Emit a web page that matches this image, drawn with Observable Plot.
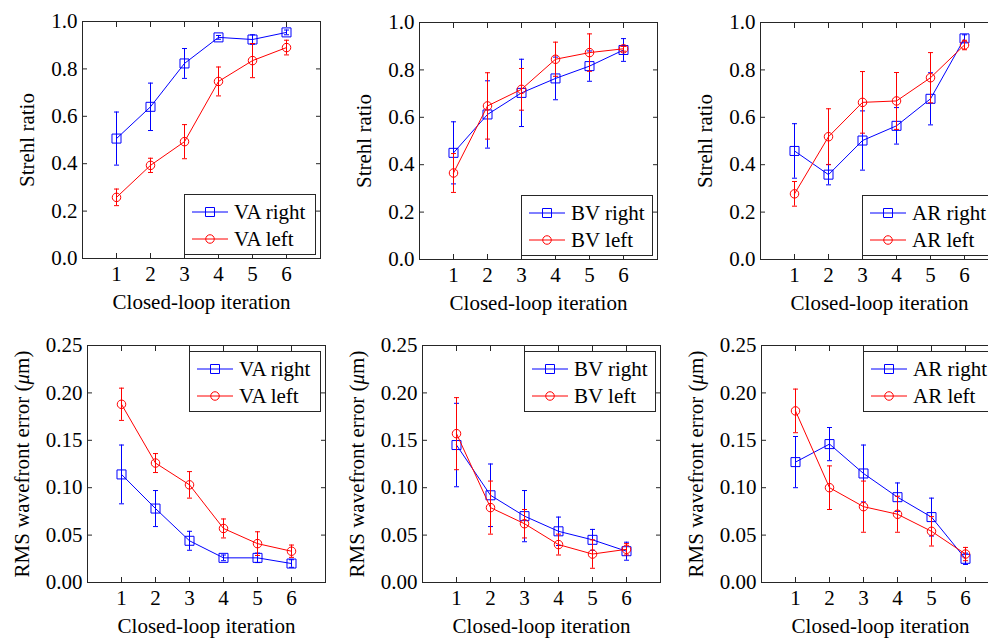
<!DOCTYPE html>
<html><head><meta charset="utf-8">
<script src="https://cdn.jsdelivr.net/npm/d3@7"></script>
<script src="https://cdn.jsdelivr.net/npm/@observablehq/plot@0.6"></script>
<style>
body{margin:0;background:#fff}
#root{position:relative;width:988px;height:638px;overflow:hidden;background:#fff;font-family:"Liberation Serif","Times New Roman",serif;color:#262626}
.panel{position:absolute}
.legend{position:absolute;border:1px solid #262626;background:#fff;box-sizing:border-box}
.legend .lt{position:absolute;font-size:21px;line-height:24px;white-space:nowrap;color:#000}
</style></head><body><div id="root"></div><script>
// ---- data ----
const iterations = [1, 2, 3, 4, 5, 6];
const strehlTicks = [0, 0.2, 0.4, 0.6, 0.8, 1.0];
const rmsTicks = [0, 0.05, 0.10, 0.15, 0.20, 0.25];

const vaStrehlRight = [0.506, 0.640, 0.823, 0.933, 0.924, 0.954];
const vaStrehlRightErr = [0.112, 0.100, 0.063, 0.008, 0.020, 0.010];
const vaStrehlLeft = [0.258, 0.393, 0.493, 0.747, 0.835, 0.890];
const vaStrehlLeftErr = [0.035, 0.030, 0.072, 0.061, 0.072, 0.031];

const bvStrehlRight = [0.450, 0.612, 0.703, 0.764, 0.816, 0.884];
const bvStrehlRightErr = [0.131, 0.142, 0.142, 0.090, 0.064, 0.048];
const bvStrehlLeft = [0.365, 0.648, 0.718, 0.845, 0.873, 0.889];
const bvStrehlLeftErr = [0.082, 0.140, 0.088, 0.072, 0.079, 0.010];

const arStrehlRight = [0.458, 0.358, 0.502, 0.564, 0.678, 0.933];
const arStrehlRightErr = [0.115, 0.043, 0.125, 0.077, 0.110, 0.015];
const arStrehlLeft = [0.277, 0.518, 0.663, 0.669, 0.767, 0.905];
const arStrehlLeftErr = [0.052, 0.118, 0.130, 0.120, 0.106, 0.020];

const vaRmsRight = [0.114, 0.078, 0.044, 0.026, 0.026, 0.020];
const vaRmsRightErr = [0.031, 0.019, 0.010, 0.003, 0.005, 0.004];
const vaRmsLeft = [0.188, 0.126, 0.103, 0.057, 0.041, 0.033];
const vaRmsLeftErr = [0.017, 0.010, 0.014, 0.010, 0.0125, 0.0065];

const bvRmsRight = [0.145, 0.092, 0.070, 0.054, 0.045, 0.033];
const bvRmsRightErr = [0.044, 0.033, 0.027, 0.015, 0.011, 0.0095];
const bvRmsLeft = [0.157, 0.079, 0.062, 0.040, 0.030, 0.035];
const bvRmsLeftErr = [0.038, 0.028, 0.015, 0.011, 0.015, 0.006];

const arRmsRight = [0.127, 0.146, 0.115, 0.090, 0.069, 0.025];
const arRmsRightErr = [0.027, 0.0175, 0.030, 0.015, 0.020, 0.006];
const arRmsLeft = [0.181, 0.100, 0.080, 0.072, 0.054, 0.030];
const arRmsLeftErr = [0.023, 0.023, 0.027, 0.019, 0.0155, 0.007];

const xLabel = "Closed-loop iteration";
const strehlLabel = "Strehl ratio";
const rmsLabel = "RMS wavefront error (μm)";

// ---- layout ----
const FW = 238, FH = 237;
const ML = 90, MT = 10, MR = 12, MB = 70;
const BLUE = "#0000ff", RED = "#ff0000", AX = "#262626";
const FONT = '"Liberation Serif","Times New Roman",serif';

const panels = [
  {fx: 82, fy: 21, ticks: strehlTicks, dom: [0, 1], fmt: ".1f", yLabel: strehlLabel, lo: 63, code: "VA", r: vaStrehlRight, re: vaStrehlRightErr, l: vaStrehlLeft, le: vaStrehlLeftErr, leg: "bottom"},
  {fx: 419, fy: 22, ticks: strehlTicks, dom: [0, 1], fmt: ".1f", yLabel: strehlLabel, lo: 63, code: "BV", r: bvStrehlRight, re: bvStrehlRightErr, l: bvStrehlLeft, le: bvStrehlLeftErr, leg: "bottom"},
  {fx: 760, fy: 22, ticks: strehlTicks, dom: [0, 1], fmt: ".1f", yLabel: strehlLabel, lo: 63, code: "AR", r: arStrehlRight, re: arStrehlRightErr, l: arStrehlLeft, le: arStrehlLeftErr, leg: "bottom"},
  {fx: 87, fy: 345, ticks: rmsTicks, dom: [0, 0.25], fmt: ".2f", yLabel: rmsLabel, lo: 73, code: "VA", r: vaRmsRight, re: vaRmsRightErr, l: vaRmsLeft, le: vaRmsLeftErr, leg: "top"},
  {fx: 422, fy: 345, ticks: rmsTicks, dom: [0, 0.25], fmt: ".2f", yLabel: rmsLabel, lo: 73, code: "BV", r: bvRmsRight, re: bvRmsRightErr, l: bvRmsLeft, le: bvRmsLeftErr, leg: "top"},
  {fx: 761, fy: 345, ticks: rmsTicks, dom: [0, 0.25], fmt: ".2f", yLabel: rmsLabel, lo: 73, code: "AR", r: arRmsRight, re: arRmsRightErr, l: arRmsLeft, le: arRmsLeftErr, leg: "top"}
];

const capSymbol = {
  draw(context, size) {
    const w = Math.sqrt(size / Math.PI);
    context.moveTo(-w, 0);
    context.lineTo(w, 0);
  }
};

function seriesMarks(rows, color, symbol, r) {
  return [
    Plot.line(rows, {x: "it", y: "v", stroke: color, strokeWidth: 1}),
    Plot.ruleX(rows, {x: "it", y1: d => d.v - d.e, y2: d => d.v + d.e, stroke: color, strokeWidth: 1}),
    Plot.dot(rows, {x: "it", y: d => d.v - d.e, symbol: capSymbol, r: 2.5, stroke: color, strokeWidth: 1}),
    Plot.dot(rows, {x: "it", y: d => d.v + d.e, symbol: capSymbol, r: 2.5, stroke: color, strokeWidth: 1}),
    Plot.dot(rows, {x: "it", y: "v", symbol, r, stroke: color, fill: "none", strokeWidth: 1})
  ];
}

const root = document.getElementById("root");

function addLegend(p) {
  const w = 132, h = 61;
  const left = p.fx + FW - 4 - w;
  const top = p.leg === "bottom" ? p.fy + FH - 3 - h : p.fy + 6;
  const box = document.createElement("div");
  box.className = "legend";
  Object.assign(box.style, {left: left + "px", top: top + "px", width: w + "px", height: h + "px"});
  const svg = d3.create("svg").attr("width", w).attr("height", h)
    .style("position", "absolute").style("left", "-1px").style("top", "-1px");
  const entries = [
    {name: p.code + " right", color: BLUE, sym: d3.symbolSquare, size: 81},
    {name: p.code + " left", color: RED, sym: d3.symbolCircle, size: 57}
  ];
  entries.forEach((e, i) => {
    const cy = 18 + i * 27;
    svg.append("line").attr("x1", 8).attr("x2", 44).attr("y1", cy).attr("y2", cy).attr("stroke", e.color);
    svg.append("path").attr("d", d3.symbol(e.sym, e.size)()).attr("transform", `translate(26,${cy})`)
      .attr("fill", "none").attr("stroke", e.color);
    const t = document.createElement("div");
    t.className = "lt";
    t.textContent = e.name;
    Object.assign(t.style, {left: "49px", top: (cy - 13) + "px"});
    box.appendChild(t);
  });
  box.appendChild(svg.node());
  root.appendChild(box);
}

panels.forEach(p => {
  const rightRows = iterations.map((it, i) => ({it, v: p.r[i], e: p.re[i]}));
  const leftRows = iterations.map((it, i) => ({it, v: p.l[i], e: p.le[i]}));
  const chart = Plot.plot({
    width: ML + FW + MR,
    height: MT + FH + MB,
    marginLeft: ML, marginTop: MT, marginRight: MR, marginBottom: MB,
    x: {domain: [0, 7]},
    y: {domain: p.dom},
    style: {fontFamily: FONT, fontSize: "21px", color: AX, background: "transparent", overflow: "visible"},
    marks: [
      ...seriesMarks(rightRows, BLUE, "square", 5.08),
      ...seriesMarks(leftRows, RED, "circle", 4.25),
      Plot.frame({stroke: AX, strokeWidth: 1}),
      Plot.axisX(iterations, {anchor: "bottom", tickSize: -5, fill: "none", stroke: AX}),
      Plot.axisX(iterations, {anchor: "top", tickSize: -5, fill: "none", stroke: AX}),
      Plot.axisY(p.ticks, {anchor: "left", tickSize: -5, fill: "none", stroke: AX}),
      Plot.axisY(p.ticks, {anchor: "right", tickSize: -5, fill: "none", stroke: AX}),
      Plot.axisX(iterations, {anchor: "bottom", tickSize: 0, tickPadding: 8, fill: "#000",
        label: xLabel, labelAnchor: "center", labelArrow: "none", labelOffset: 50}),
      Plot.axisY(p.ticks, {anchor: "left", tickSize: 0, tickPadding: 5, tickFormat: d3.format(p.fmt), fill: "#000",
        label: p.yLabel, labelAnchor: "center", labelArrow: "none", labelOffset: p.lo})
    ]
  });
  chart.classList.add("panel");
  chart.style.left = (p.fx - ML) + "px";
  chart.style.top = (p.fy - MT) + "px";
  // italic mu in the y label
  chart.querySelectorAll("text, tspan").forEach(t => {
    if (t.childNodes.length === 1 && t.firstChild.nodeType === 3 && t.textContent.includes("μ")) {
      const parts = t.textContent.split("μ");
      t.textContent = "";
      parts.forEach((s, i) => {
        if (i > 0) {
          const mu = document.createElementNS("http://www.w3.org/2000/svg", "tspan");
          mu.setAttribute("font-style", "italic");
          mu.textContent = "μ";
          t.appendChild(mu);
        }
        t.appendChild(document.createTextNode(s));
      });
    }
  });
  root.appendChild(chart);
  addLegend(p);
});
</script></body></html>
